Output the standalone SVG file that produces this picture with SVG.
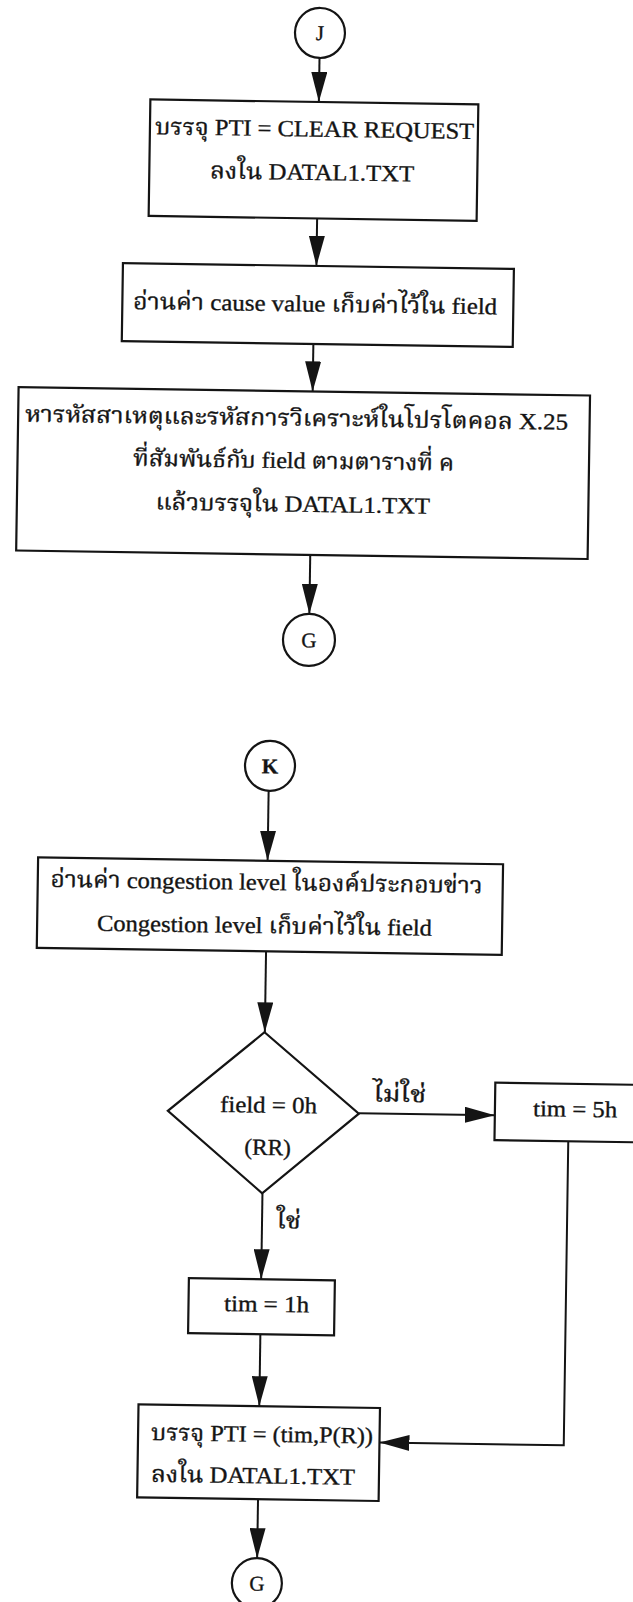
<svg xmlns="http://www.w3.org/2000/svg" width="633" height="1602" viewBox="0 0 633 1602">
  <defs>
    <style>
      .box { fill: #fff; stroke: #141414; stroke-width: 2.2; }
      .ln { fill: none; stroke: #141414; stroke-width: 2; marker-end: url(#ah); }
      .t { font-family: "Liberation Serif", "Noto Serif Thai", "Noto Sans Thai", "Norasi", "Kinnari", "Loma", serif; font-size: 23px; fill: #141414; stroke: #141414; stroke-width: 0.35; }
      .c { font-family: "Liberation Serif", serif; font-size: 21px; fill: #141414; stroke: #141414; stroke-width: 0.35; text-anchor: middle; }
    </style>
    <marker id="ah" markerUnits="userSpaceOnUse" markerWidth="30" markerHeight="16" refX="30" refY="8" orient="auto">
      <path d="M0,0 L30,8 L0,16 Z" fill="#141414"/>
    </marker>
  </defs>
  <rect width="633" height="1602" fill="#fff"/>

  <!-- whole sheet sits with a slight clockwise tilt -->
  <g transform="rotate(0.85 316 800)">

    <g id="connectors">
      <line class="ln" x1="308.5" y1="58" x2="308.5" y2="102"/>
      <line class="ln" x1="308.5" y1="218.5" x2="308.5" y2="266"/>
      <line class="ln" x1="306.6" y1="344" x2="306.6" y2="391.5"/>
      <line class="ln" x1="306.6" y1="555" x2="306.6" y2="614"/>

      <line class="ln" x1="268.5" y1="791.5" x2="268.5" y2="861.5"/>
      <line class="ln" x1="268.3" y1="952" x2="268.3" y2="1033"/>
      <line class="ln" x1="363.5" y1="1112.5" x2="499.5" y2="1112.5"/>
      <line class="ln" x1="268.3" y1="1194" x2="268.3" y2="1280"/>
      <line class="ln" x1="268.3" y1="1335" x2="268.3" y2="1407"/>
      <path class="ln" d="M573.3,1137.5 V1441.5 H389"/>
      <line class="ln" x1="268.4" y1="1500" x2="268.4" y2="1559"/>

      <text class="t" x="377.5" y="1100.5" textLength="53" lengthAdjust="spacingAndGlyphs">ไม่ใช่</text>
      <text class="t" x="282.9" y="1228.7" textLength="24.3" lengthAdjust="spacingAndGlyphs">ใช่</text>
    </g>

    <g id="conn-J">
      <circle class="box" cx="308.6" cy="33" r="25"/>
      <text class="c" x="308.6" y="40">J</text>
    </g>

    <g id="store-clear-request">
      <rect class="box" x="140" y="102" width="328" height="116.5"/>
      <text class="t" x="145.2" y="136.7" textLength="319" lengthAdjust="spacingAndGlyphs">บรรจุ PTI = CLEAR REQUEST</text>
      <text class="t" x="200.8" y="180" textLength="204" lengthAdjust="spacingAndGlyphs">ลงใน DATAL1.TXT</text>
    </g>

    <g id="read-cause">
      <rect class="box" x="115" y="266" width="391" height="78"/>
      <text class="t" x="125.8" y="311.7" textLength="364" lengthAdjust="spacingAndGlyphs">อ่านค่า cause value เก็บค่าไว้ใน field</text>
    </g>

    <g id="find-codes">
      <rect class="box" x="12.5" y="391.5" width="571.5" height="163.5"/>
      <text class="t" x="19.4" y="426" textLength="543" lengthAdjust="spacingAndGlyphs">หารหัสสาเหตุและรหัสการวิเคราะห์ในโปรโตคอล X.25</text>
      <text class="t" x="128.1" y="468.6" textLength="321" lengthAdjust="spacingAndGlyphs">ที่สัมพันธ์กับ field ตามตารางที่ ค</text>
      <text class="t" x="151.1" y="512" textLength="274.6" lengthAdjust="spacingAndGlyphs">แล้วบรรจุใน DATAL1.TXT</text>
    </g>

    <g id="conn-G1">
      <circle class="box" cx="306.6" cy="640" r="26"/>
      <text class="c" x="306.6" y="647.5">G</text>
    </g>

    <g id="conn-K">
      <circle class="box" cx="269.5" cy="766.5" r="25"/>
      <text class="c" x="269.5" y="774" font-weight="bold">K</text>
    </g>

    <g id="read-congestion">
      <rect class="box" x="39" y="861.5" width="465" height="90.5"/>
      <text class="t" x="51.8" y="890.7" textLength="432" lengthAdjust="spacingAndGlyphs">อ่านค่า congestion level ในองค์ประกอบข่าว</text>
      <text class="t" x="98.9" y="934" textLength="335" lengthAdjust="spacingAndGlyphs">Congestion level เก็บค่าไว้ใน field</text>
    </g>

    <g id="check-field">
      <polygon class="box" points="268,1033 363.5,1113 268,1194 172.5,1113"/>
      <text class="t" x="224.6" y="1113.4" textLength="97" lengthAdjust="spacingAndGlyphs">field = 0h</text>
      <text class="t" x="249.5" y="1155.6" textLength="46.5" lengthAdjust="spacingAndGlyphs">(RR)</text>
    </g>

    <g id="set-tim-5h">
      <rect class="box" x="499.5" y="1080" width="145" height="57.5"/>
      <text class="t" x="537.7" y="1112.9" textLength="84" lengthAdjust="spacingAndGlyphs">tim = 5h</text>
    </g>

    <g id="set-tim-1h">
      <rect class="box" x="196" y="1280" width="146" height="55"/>
      <text class="t" x="231.6" y="1312.4" textLength="85" lengthAdjust="spacingAndGlyphs">tim = 1h</text>
    </g>

    <g id="store-tim">
      <rect class="box" x="147.5" y="1407" width="241.5" height="93"/>
      <text class="t" x="160.5" y="1442.5" textLength="222" lengthAdjust="spacingAndGlyphs">บรรจุ PTI = (tim,P(R))</text>
      <text class="t" x="161.1" y="1484.1" textLength="204" lengthAdjust="spacingAndGlyphs">ลงใน DATAL1.TXT</text>
    </g>

    <g id="conn-G2">
      <circle class="box" cx="268.5" cy="1584" r="25"/>
      <text class="c" x="268.5" y="1591.5">G</text>
    </g>
  </g>
</svg>
